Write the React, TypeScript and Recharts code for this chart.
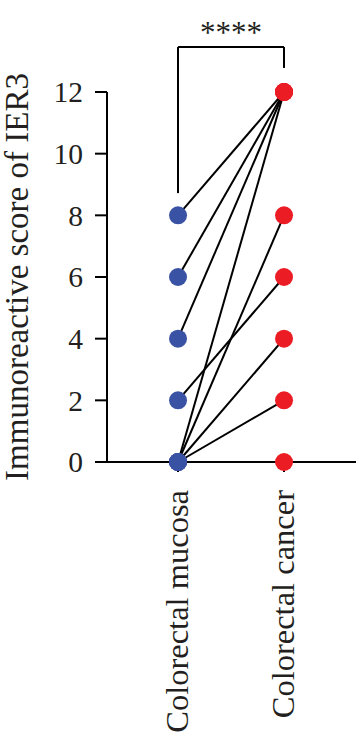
import {
  ComposedChart,
  Line,
  ReferenceDot,
  ReferenceLine,
  Scatter,
  XAxis,
  YAxis,
} from "recharts";

// Paired IRS scores of IER3: normal mucosa vs tumour, one line per patient.
const categories = ["Colorectal mucosa", "Colorectal cancer"];
const mucosaScores = [8, 6, 4, 2, 0, 0, 0, 0, 0];
const cancerScores = [12, 12, 12, 6, 12, 8, 4, 2, 0];
const yTicks = [0, 2, 4, 6, 8, 10, 12];
const yLabel = "Immunoreactive score of IER3";
const significance = "****";

// significance bracket, in score units above the axis max
const bracketTop = 13.46;
const bracketLeftEnd = 8.72;
const bracketRightEnd = 12.78;
const starsY = 13.95;

const INK = "#231f20";
const BLUE = "#3a52a3";
const RED = "#ec1c24";
const FONT = "'Liberation Serif', 'Times New Roman', serif";

const pairs = mucosaScores.map((m, i) => [
  { x: 0, y: m },
  { x: 1, y: cancerScores[i] },
]);
const mucosaPoints = mucosaScores.map((y) => ({ x: 0, y }));
const cancerPoints = cancerScores.map((y) => ({ x: 1, y }));

function XTick(props: { x?: number; y?: number; payload?: { value: number } }) {
  const { x = 0, y = 0, payload } = props;
  return (
    <g transform={`translate(${x},${y})`}>
      <text
        transform="rotate(-90)"
        x={-18}
        dy="0.3em"
        textAnchor="end"
        fontSize={32.5}
        fontFamily={FONT}
        fill={INK}
      >
        {categories[payload?.value ?? 0]}
      </text>
    </g>
  );
}

export default function App() {
  return (
    <div style={{ position: "absolute", left: 0, top: 0, background: "#fff" }}>
      <ComposedChart
        width={356}
        height={739}
        margin={{ top: 92, right: 0, bottom: 0, left: 0 }}
      >
        <XAxis
          type="number"
          dataKey="x"
          domain={[-0.67, 1.679]}
          ticks={[0, 1]}
          interval={0}
          allowDataOverflow
          stroke="#000"
          strokeWidth={2}
          tickSize={10}
          tickMargin={0}
          tick={<XTick />}
          height={277}
        />
        <YAxis
          type="number"
          domain={[0, 12]}
          ticks={yTicks}
          interval={0}
          width={107}
          stroke="#000"
          strokeWidth={2}
          tickSize={12}
          tickMargin={12}
          tick={{ fontSize: 29.5, fontFamily: FONT, fill: INK }}
          label={{
            value: yLabel,
            content: (p: { viewBox?: { x: number; y: number; height: number } }) => {
              const vb = p.viewBox ?? { x: 0, y: 0, height: 0 };
              const cx = vb.x + 17;
              const cy = vb.y + vb.height / 2;
              return (
                <text
                  x={cx}
                  y={cy}
                  transform={`rotate(-90, ${cx}, ${cy})`}
                  textAnchor="middle"
                  dominantBaseline="central"
                  fontSize={33}
                  fontFamily={FONT}
                  fill={INK}
                >
                  {yLabel}
                </text>
              );
            },
          }}
        />
        {pairs.map((d, i) => (
          <Line
            key={i}
            data={d}
            dataKey="y"
            stroke="#000"
            strokeWidth={2}
            dot={false}
            activeDot={false}
            isAnimationActive={false}
          />
        ))}
        <ReferenceLine
          segment={[
            { x: 0, y: bracketLeftEnd },
            { x: 0, y: bracketTop },
          ]}
          stroke="#000"
          strokeWidth={2}
          ifOverflow="visible"
        />
        <ReferenceLine
          segment={[
            { x: 0, y: bracketTop },
            { x: 1, y: bracketTop },
          ]}
          stroke="#000"
          strokeWidth={2}
          ifOverflow="visible"
        />
        <ReferenceLine
          segment={[
            { x: 1, y: bracketTop },
            { x: 1, y: bracketRightEnd },
          ]}
          stroke="#000"
          strokeWidth={2}
          ifOverflow="visible"
        />
        <ReferenceDot
          x={0.5}
          y={starsY}
          r={0}
          ifOverflow="visible"
          label={{
            value: significance,
            position: "center",
            fontSize: 31,
            fontFamily: FONT,
            fill: INK,
          }}
        />
        <Scatter
          data={mucosaPoints}
          dataKey="y"
          isAnimationActive={false}
          shape={(p: { cx?: number; cy?: number }) => (
            <circle cx={p.cx} cy={p.cy} r={9} fill={BLUE} />
          )}
        />
        <Scatter
          data={cancerPoints}
          dataKey="y"
          isAnimationActive={false}
          shape={(p: { cx?: number; cy?: number }) => (
            <circle cx={p.cx} cy={p.cy} r={9} fill={RED} />
          )}
        />
      </ComposedChart>
    </div>
  );
}
